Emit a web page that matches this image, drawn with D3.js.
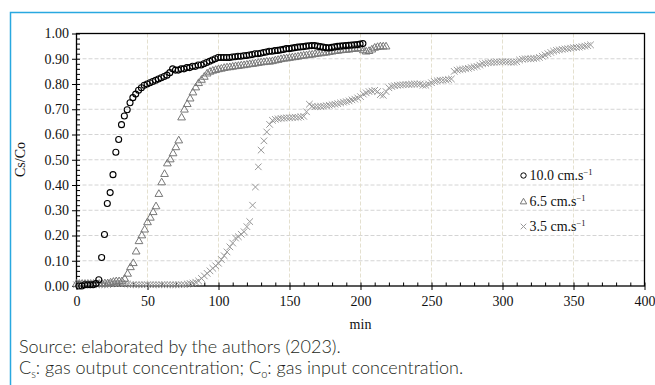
<!DOCTYPE html>
<html>
<head>
<meta charset="utf-8">
<script src="https://cdn.jsdelivr.net/npm/d3@7"></script>
<style>
  html, body { margin: 0; padding: 0; background: #fff; }
  svg { display: block; }
</style>
</head>
<body>
<div id="chart"></div>
<script>
// Cs/Co breakthrough readings, one every 2 min from the series start
const start10 = 1.7, start65 = 0, start35 = 0, step = 2;

const vel10 = [
  0.00, 0.00, 0.005, 0.005, 0.005, 0.005, 0.01, 0.025, 0.113, 0.204,
  0.327, 0.37, 0.441, 0.53, 0.58, 0.639, 0.673, 0.698, 0.726, 0.746,
  0.76, 0.775, 0.785, 0.795, 0.80, 0.805, 0.81, 0.815, 0.82, 0.825,
  0.83, 0.835, 0.845, 0.86, 0.855, 0.855, 0.86, 0.86, 0.865, 0.865,
  0.87, 0.87, 0.875, 0.875, 0.88, 0.885, 0.89, 0.895, 0.90, 0.905,
  0.905, 0.905, 0.905, 0.905, 0.907, 0.908, 0.91, 0.91, 0.912, 0.913,
  0.915, 0.917, 0.92, 0.92, 0.922, 0.925, 0.927, 0.93, 0.93, 0.932,
  0.933, 0.935, 0.937, 0.94, 0.94, 0.942, 0.944, 0.946, 0.947, 0.948,
  0.95, 0.951, 0.952, 0.952, 0.95, 0.948, 0.946, 0.944, 0.943, 0.945,
  0.947, 0.949, 0.95, 0.951, 0.952, 0.953, 0.954, 0.955, 0.956, 0.958,
  0.96
];

const vel65 = [
  0.01, 0.01, 0.01, 0.01, 0.01, 0.01, 0.01, 0.01, 0.01, 0.01,
  0.012, 0.012, 0.015, 0.018, 0.02, 0.02, 0.02, 0.03, 0.05, 0.076,
  0.092, 0.138, 0.179, 0.202, 0.225, 0.254, 0.272, 0.294, 0.317, 0.366,
  0.412, 0.445, 0.487, 0.503, 0.527, 0.551, 0.578, 0.669, 0.70, 0.722,
  0.744, 0.768, 0.788, 0.805, 0.818, 0.83, 0.843, 0.85, 0.854, 0.857,
  0.86, 0.862, 0.865, 0.867, 0.868, 0.87, 0.872, 0.873, 0.875, 0.876,
  0.878, 0.88, 0.881, 0.883, 0.885, 0.887, 0.888, 0.89, 0.89, 0.892,
  0.895, 0.897, 0.90, 0.902, 0.903, 0.905, 0.907, 0.908, 0.91, 0.912,
  0.914, 0.915, 0.917, 0.918, 0.92, 0.922, 0.923, 0.925, 0.926, 0.928,
  0.93, 0.932, 0.933, 0.935, 0.936, 0.937, 0.938, 0.94, 0.941, 0.942,
  0.943, 0.935, 0.93, 0.932, 0.938, 0.945, 0.948, 0.95, 0.95, 0.95
];

const vel35 = [
  0.005, 0.005, 0.005, 0.005, 0.005, 0.005, 0.005, 0.005, 0.005, 0.005,
  0.005, 0.005, 0.008, 0.01, 0.01, 0.01, 0.01, 0.01, 0.008, 0.005,
  0.005, 0.005, 0.005, 0.005, 0.005, 0.005, 0.005, 0.005, 0.005, 0.005,
  0.005, 0.005, 0.005, 0.005, 0.005, 0.005, 0.005, 0.005, 0.005, 0.008,
  0.01, 0.012, 0.015, 0.02, 0.03, 0.04, 0.05, 0.06, 0.07, 0.08,
  0.09, 0.105, 0.12, 0.135, 0.155, 0.17, 0.19, 0.195, 0.205, 0.215,
  0.235, 0.255, 0.32, 0.392, 0.472, 0.538, 0.575, 0.61, 0.64, 0.656,
  0.66, 0.662, 0.664, 0.665, 0.666, 0.666, 0.667, 0.668, 0.668, 0.67,
  0.672, 0.69, 0.72, 0.712, 0.71, 0.71, 0.711, 0.712, 0.714, 0.716,
  0.718, 0.72, 0.722, 0.725, 0.728, 0.73, 0.733, 0.737, 0.74, 0.745,
  0.75, 0.76, 0.765, 0.77, 0.772, 0.775, 0.77, 0.758, 0.755, 0.77,
  0.785, 0.79, 0.793, 0.795, 0.796, 0.797, 0.798, 0.798, 0.799, 0.80,
  0.80, 0.80, 0.795, 0.795, 0.80, 0.805, 0.81, 0.813, 0.815, 0.815,
  0.816, 0.818, 0.82, 0.85, 0.855, 0.857, 0.858, 0.86, 0.862, 0.865,
  0.868, 0.87, 0.875, 0.88, 0.882, 0.884, 0.885, 0.886, 0.887, 0.887,
  0.888, 0.888, 0.887, 0.886, 0.886, 0.888, 0.895, 0.898, 0.90, 0.90,
  0.90, 0.901, 0.902, 0.905, 0.91, 0.915, 0.92, 0.925, 0.93, 0.933,
  0.935, 0.937, 0.939, 0.94, 0.942, 0.944, 0.945, 0.946, 0.948, 0.95,
  0.952, 0.955
];

const xTicks = [0, 50, 100, 150, 200, 250, 300, 350, 400];
const yTicks = [0, 0.1, 0.2, 0.3, 0.4, 0.5, 0.6, 0.7, 0.8, 0.9, 1.0];
const legendLabels = ['10.0', '6.5', '3.5'];

const W = 655, H = 385;
const plot = { left: 76.5, right: 644.5, top: 33.5, bottom: 286 };
const serif = '"Liberation Serif", "Times New Roman", serif';

const svg = d3.select('#chart').append('svg')
  .attr('width', W)
  .attr('height', H);

// Blue frame (top and left only)
svg.append('path')
  .attr('d', `M10.5,${H} V12.5 H${W}`)
  .attr('fill', 'none')
  .attr('stroke', '#29a8e0')
  .attr('stroke-width', 1.5);

const x = d3.scaleLinear().domain([0, 400]).range([plot.left, plot.right]);
const y = d3.scaleLinear().domain([0, 1]).range([plot.bottom, plot.top]);

const g = svg.append('g');

// Grid lines
g.append('g')
  .selectAll('line')
  .data(yTicks.slice(1, -1))
  .join('line')
  .attr('x1', plot.left).attr('x2', plot.right)
  .attr('y1', d => y(d)).attr('y2', d => y(d))
  .attr('stroke', '#d4d4d4')
  .attr('stroke-dasharray', '4,2');

g.append('g')
  .selectAll('line')
  .data(xTicks.slice(1, -1))
  .join('line')
  .attr('x1', d => x(d)).attr('x2', d => x(d))
  .attr('y1', plot.top).attr('y2', plot.bottom)
  .attr('stroke', '#e4e0cf')
  .attr('stroke-dasharray', '4,2');

// Minor ticks (inside)
g.append('g')
  .attr('transform', `translate(${plot.left},0)`)
  .call(d3.axisRight(y).tickValues(d3.range(0, 1.001, 0.02)).tickSize(3.5).tickFormat(''))
  .call(a => a.select('.domain').remove())
  .selectAll('line').attr('stroke', '#000');

g.append('g')
  .attr('transform', `translate(0,${plot.bottom})`)
  .call(d3.axisTop(x).tickValues(d3.range(0, 401, 10)).tickSize(3.5).tickFormat(''))
  .call(a => a.select('.domain').remove())
  .selectAll('line').attr('stroke', '#000');

// Main axes
const yAxis = g.append('g')
  .attr('transform', `translate(${plot.left},0)`)
  .call(d3.axisLeft(y).tickValues(yTicks).tickSize(4.5).tickPadding(3).tickFormat(d3.format('.2f')));

const xAxis = g.append('g')
  .attr('transform', `translate(0,${plot.bottom})`)
  .call(d3.axisBottom(x).tickValues(xTicks).tickSize(4).tickPadding(6));

[yAxis, xAxis].forEach(a => {
  a.select('.domain').remove();
  a.selectAll('line').attr('stroke', '#000');
  a.selectAll('text')
    .attr('fill', '#111')
    .style('font-family', serif)
    .style('font-size', '14px');
});

// Plot frame
g.append('rect')
  .attr('x', plot.left).attr('y', plot.top)
  .attr('width', plot.right - plot.left)
  .attr('height', plot.bottom - plot.top)
  .attr('fill', 'none')
  .attr('stroke', '#000')
  .attr('stroke-width', 1.3);

// Series
const toPoints = (vals, t0) => vals.map((v, i) => ({ t: t0 + i * step, v }));

const crossPath = d3.symbol(d3.symbolX, 30)();
const triPath = d3.symbol(d3.symbolTriangle, 26)();

g.append('g')
  .selectAll('path')
  .data(toPoints(vel35, start35))
  .join('path')
  .attr('d', crossPath)
  .attr('transform', d => `translate(${x(d.t)},${y(d.v)})`)
  .attr('fill', 'none')
  .attr('stroke', '#999')
  .attr('stroke-width', 1);

g.append('g')
  .selectAll('path')
  .data(toPoints(vel65, start65))
  .join('path')
  .attr('d', triPath)
  .attr('transform', d => `translate(${x(d.t)},${y(d.v) + 0.6})`)
  .attr('fill', 'none')
  .attr('stroke', '#787878')
  .attr('stroke-width', 1);

g.append('g')
  .selectAll('circle')
  .data(toPoints(vel10, start10))
  .join('circle')
  .attr('cx', d => x(d.t))
  .attr('cy', d => y(d.v))
  .attr('r', 3)
  .attr('fill', 'none')
  .attr('stroke', '#000')
  .attr('stroke-width', 1.1);

// Legend
const legendY = [175.5, 201.5, 226.5];
const leg = svg.append('g');
leg.append('circle')
  .attr('cx', 523.5).attr('cy', legendY[0]).attr('r', 2.7)
  .attr('fill', 'none').attr('stroke', '#000').attr('stroke-width', 1);
leg.append('path')
  .attr('d', d3.symbol(d3.symbolTriangle, 18)())
  .attr('transform', `translate(523.5,${legendY[1] + 0.5})`)
  .attr('fill', 'none').attr('stroke', '#787878');
leg.append('path')
  .attr('d', d3.symbol(d3.symbolX, 22)())
  .attr('transform', `translate(523.5,${legendY[2]})`)
  .attr('fill', 'none').attr('stroke', '#999');

legendLabels.forEach((lab, i) => {
  const t = leg.append('text')
    .attr('x', 529.5)
    .attr('y', legendY[i] + 4.5)
    .attr('fill', '#111')
    .style('font-family', serif)
    .style('font-size', '14px');
  t.append('tspan').text(`${lab} cm.s`);
  t.append('tspan')
    .attr('dy', -5)
    .style('font-size', '8.5px')
    .text('\u22121');
});

// Axis titles
svg.append('text')
  .attr('transform', 'translate(25,159.5) rotate(-90)')
  .attr('text-anchor', 'middle')
  .attr('fill', '#111')
  .style('font-family', serif)
  .style('font-size', '14px')
  .text('Cs/Co');

svg.append('text')
  .attr('x', (plot.left + plot.right) / 2)
  .attr('y', 329)
  .attr('text-anchor', 'middle')
  .attr('fill', '#111')
  .style('font-family', serif)
  .style('font-size', '14px')
  .text('min');

// Caption
const cap = svg.append('g')
  .attr('fill', '#231f20')
  .style('font-family', 'Lato, "Open Sans", sans-serif')
  .style('font-weight', 300)
  .style('font-size', '18px');

cap.append('text').attr('x', 19).attr('y', 353)
  .text('Source: elaborated by the authors (2023).');

const line2 = cap.append('text').attr('x', 19).attr('y', 374);
line2.append('tspan').text('C');
line2.append('tspan').attr('dy', 4).style('font-size', '11px').text('s');
line2.append('tspan').attr('dy', -4).text(': gas output concentration; C');
line2.append('tspan').attr('dy', 4).style('font-size', '11px').text('o');
line2.append('tspan').attr('dy', -4).text(': gas input concentration.');
</script>
</body>
</html>
